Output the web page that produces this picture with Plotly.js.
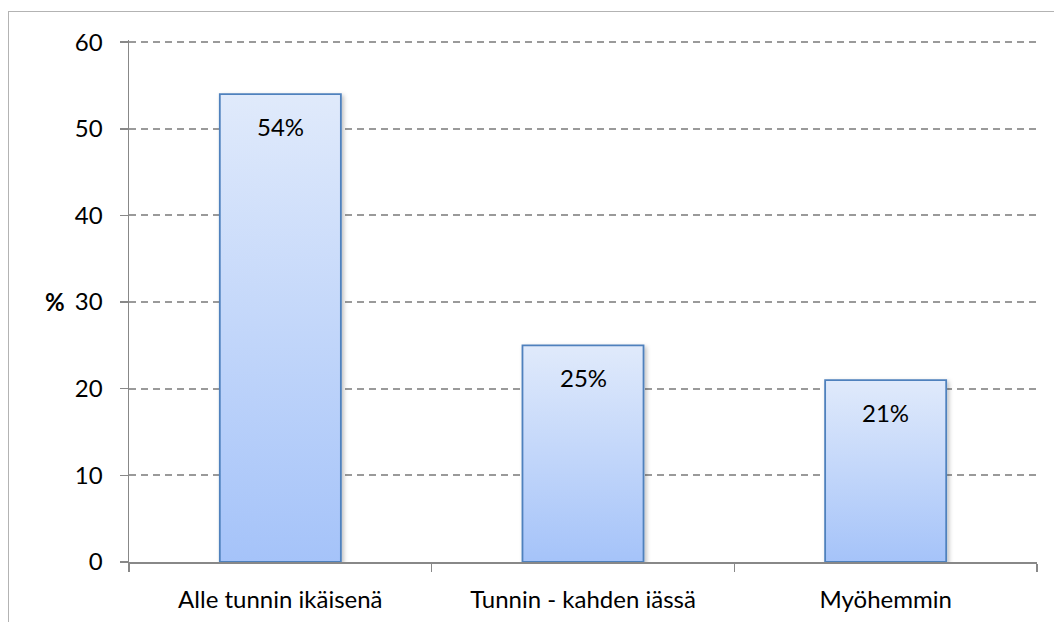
<!DOCTYPE html>
<html><head><meta charset="utf-8">
<script src="https://cdn.plot.ly/plotly-3.0.1.min.js"></script>
<style>
html,body{margin:0;padding:0;background:#fff;}
#wrap{position:relative;width:1054px;height:622px;overflow:hidden;}
#frame{position:absolute;left:8px;top:11px;width:1100px;height:700px;border:1.5px solid #b3b3b3;box-sizing:border-box;}
#chart{position:absolute;left:0;top:0;width:1054px;height:622px;}
</style></head>
<body><div id="wrap"><div id="frame"></div><div id="chart"></div></div>
<script>
const categories = ["Alle tunnin ikäisenä", "Tunnin - kahden iässä", "Myöhemmin"];
const values = [54, 25, 21];
const labels = ["54%", "25%", "21%"];
const yTicks = [0, 10, 20, 30, 40, 50, 60];

const FONT = "Lato, 'Open Sans', sans-serif";
const FS = 24;

const trace = {
  type: "bar", x: categories, y: values, width: 0.4,
  marker: {color: "#c3d7fa", line: {color: "#4f81bd", width: 1.8}},
  hoverinfo: "skip"
};

const annotations = categories.map((c, i) => ({
  x: c, y: values[i], xref: "x", yref: "y", text: labels[i], showarrow: false,
  yshift: -32, font: {family: FONT, size: FS, color: "#000"}
}));
annotations.push({xref: "paper", yref: "paper", x: -0.082, y: 0.5, xanchor: "center",
  text: "<b>%</b>", showarrow: false, font: {family: FONT, size: FS, color: "#000"}});

const layout = {
  width: 1054, height: 622,
  margin: {l: 129, r: 17, t: 40, b: 60},
  paper_bgcolor: "rgba(0,0,0,0)", plot_bgcolor: "rgba(0,0,0,0)",
  showlegend: false,
  font: {family: FONT, size: FS, color: "#000"},
  xaxis: {type: "category", tickson: "boundaries", ticks: "outside", ticklen: 8,
    tickcolor: "#888", tickwidth: 1.5, showline: true, linecolor: "#888", linewidth: 1.5,
    showgrid: false, ticklabelstandoff: 16, tickfont: {family: FONT, size: FS}},
  yaxis: {range: [0, 60.25], tickvals: yTicks, ticks: "outside", ticklen: 8,
    tickcolor: "#888", tickwidth: 1.5, showline: true, linecolor: "#888", linewidth: 1.5,
    showgrid: true, gridcolor: "#9a9a9a", gridwidth: 2, griddash: "7px,5px",
    zeroline: false, ticklabelstandoff: 12, tickfont: {family: FONT, size: FS}},
  annotations: annotations
};

Plotly.newPlot("chart", [trace], layout, {displayModeBar: false, staticPlot: true}).then(gd => {
  const svg = gd.querySelector("svg.main-svg");
  const ns = "http://www.w3.org/2000/svg";
  let defs = svg.querySelector("defs");
  if (!defs) { defs = document.createElementNS(ns, "defs"); svg.insertBefore(defs, svg.firstChild); }
  const g = document.createElementNS(ns, "linearGradient");
  g.setAttribute("id", "barGrad"); g.setAttribute("x1", "0"); g.setAttribute("y1", "0");
  g.setAttribute("x2", "0"); g.setAttribute("y2", "1");
  [["0", "#e0eafb"], ["1", "#a5c3f9"]].forEach(([o, c]) => {
    const s = document.createElementNS(ns, "stop");
    s.setAttribute("offset", o); s.setAttribute("stop-color", c); g.appendChild(s);
  });
  defs.appendChild(g);
  const f = document.createElementNS(ns, "filter");
  f.setAttribute("id", "barShadow"); f.setAttribute("x", "-10%"); f.setAttribute("y", "-10%");
  f.setAttribute("width", "130%"); f.setAttribute("height", "130%");
  f.innerHTML = '<feDropShadow dx="2" dy="2" stdDeviation="2" flood-color="#000" flood-opacity="0.25"/>';
  defs.appendChild(f);
  gd.querySelectorAll(".bars .point path").forEach(p => {
    p.style.fill = "url(#barGrad)";
    p.style.filter = "url(#barShadow)";
  });
});
</script></body></html>
